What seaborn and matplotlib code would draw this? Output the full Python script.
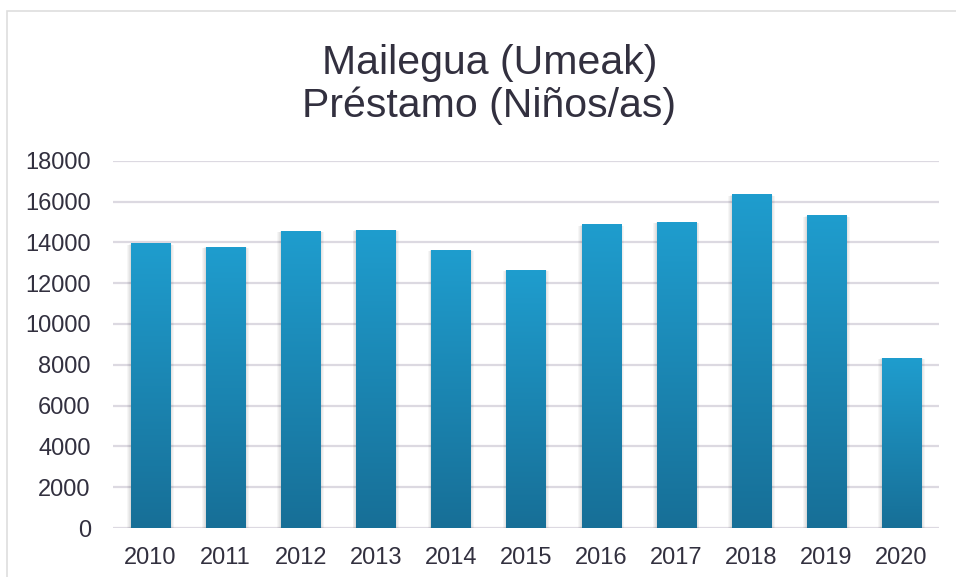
import numpy as np
import pandas as pd
import matplotlib
matplotlib.use("Agg")
import matplotlib.pyplot as plt
import matplotlib.patches as mpatches
from matplotlib.colors import LinearSegmentedColormap
import seaborn as sns

years = ["2010", "2011", "2012", "2013", "2014", "2015",
         "2016", "2017", "2018", "2019", "2020"]
loans = [13920, 13770, 14550, 14600, 13620, 12640,
         14850, 14990, 16320, 15290, 8330]
title_lines = ["Mailegua (Umeak)", "Préstamo (Niños/as)"]

text_color = "#32303f"
grid_color = "#dcd9e1"
bar_top = "#1f9dce"
bar_bottom = "#176f97"

sns.set_theme(style="white")
plt.rcParams["font.family"] = ["Liberation Sans", "DejaVu Sans"]

df = pd.DataFrame({"year": years, "loans": loans})

fig = plt.figure(figsize=(9.56, 5.77), dpi=100)
ax = fig.add_axes([0.1182, 0.0849, 0.864, 0.6366])

sns.barplot(data=df, x="year", y="loans", color=bar_top, width=0.52,
            saturation=1, ax=ax, zorder=3)

ax.set_ylim(0, 18000)
ax.set_xlim(-0.5, len(years) - 0.5)
ax.set_yticks(range(0, 18001, 2000))

# gradient fill + soft shadow for each bar
cmap = LinearSegmentedColormap.from_list("bars", [bar_bottom, bar_top])
grad = np.linspace(0, 1, 256).reshape(-1, 1)
for p in ax.patches:
    x, w, h = p.get_x(), p.get_width(), p.get_height()
    for i in range(4):
        s = 0.025 * (i + 1)
        ax.add_patch(mpatches.Rectangle((x - s / 2, -40 * (i + 1)),
                                        w + s, h + 30 * (i + 1),
                                        facecolor="#000000", alpha=0.035,
                                        edgecolor="none", zorder=2))
    p.set_facecolor("none")
    p.set_edgecolor("none")
    ax.imshow(grad * h / 18000, extent=[x, x + w, 0, h], origin="lower",
              cmap=cmap, vmin=0, vmax=h / 18000 if h else 1,
              aspect="auto", zorder=4)

ax.set_ylim(0, 18000)
ax.set_xlim(-0.5, len(years) - 0.5)

ax.grid(axis="y", color=grid_color, linewidth=1.6, zorder=0)
ax.grid(axis="x", visible=False)
for spine in ax.spines.values():
    spine.set_visible(False)

ax.set_xlabel("")
ax.set_ylabel("")
ax.tick_params(axis="both", length=0, labelsize=17, colors=text_color)
ax.tick_params(axis="y", pad=16)
ax.tick_params(axis="x", pad=14)

fig.text(0.512, 0.784, "\n".join(title_lines), ha="center", va="bottom",
         fontsize=29.5, color=text_color, linespacing=1.15)

# light frame around the chart
fig.add_artist(mpatches.Rectangle((7 / 956, -0.01), 1.0, 1 - 11 / 577 + 0.01,
                                  transform=fig.transFigure, fill=False,
                                  edgecolor="#dedede", linewidth=1.2))

fig.savefig("out.png", dpi=100, facecolor="white")
